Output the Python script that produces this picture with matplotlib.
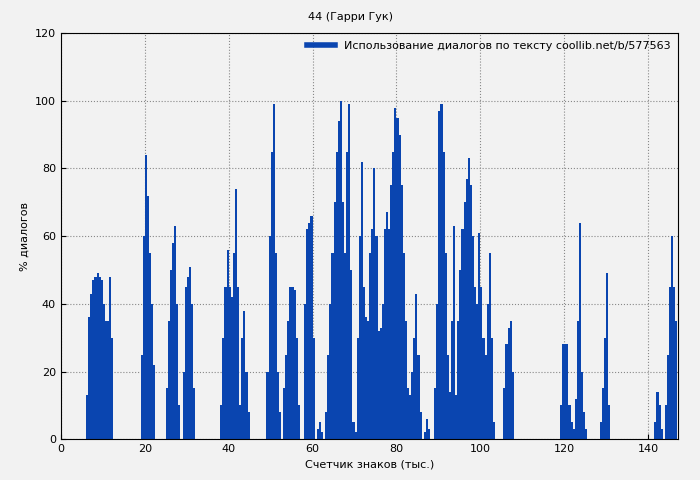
import matplotlib.pyplot as plt
from matplotlib.lines import Line2D

# (start position, values every 0.5k characters)
clusters = [
    (6.0, [13, 36, 43, 47, 48, 49, 48, 47, 40, 35, 35, 48, 30]),
    (19.0, [25, 60, 84, 72, 55, 40, 22]),
    (25.0, [15, 35, 50, 58, 63, 40, 10]),
    (29.0, [20, 45, 48, 51, 40, 15]),
    (38.0, [10, 30, 45, 56, 45, 42, 55, 74, 45, 10, 30, 38, 20, 8]),
    (49.0, [20, 60, 85, 99, 55, 20, 8]),
    (53.0, [15, 25, 35, 45, 45, 44, 30, 10]),
    (58.0, [40, 62, 64, 66, 30]),
    (61.0, [3, 5, 2]),
    (63.0, [8, 25, 40, 55, 70, 85, 94, 100, 70, 55, 85, 99, 50, 5, 2, 30, 60, 82,
            45, 36, 35, 55, 62, 80, 60, 32, 33, 40, 62, 67, 62, 75, 85, 98, 95, 90,
            75, 55, 35, 15, 13, 20, 30, 43, 25, 8]),
    (86.5, [2, 6, 3]),
    (89.0, [15, 40, 97, 99, 85, 55, 25, 14, 35, 63, 13, 35, 50, 62, 70, 77, 83, 75,
            60, 45, 40, 61, 45, 30, 25, 40, 55, 30, 5]),
    (105.5, [15, 28, 33, 35, 20]),
    (119.0, [10, 28, 28, 28, 10]),
    (121.5, [5, 3, 12, 35, 64, 20, 8, 3]),
    (128.5, [5, 15, 30, 49, 10]),
    (141.5, [5, 14, 10, 3]),
    (144.0, [10, 25, 45, 60, 45, 35]),
]

x = []
y = []
for start, vals in clusters:
    for i, v in enumerate(vals):
        x.append(start + 0.5 * i)
        y.append(v)

color = '#0a45b0'
fig = plt.figure(figsize=(7, 4.8), dpi=100, facecolor='#f2f2f2')
ax = fig.add_axes([0.087, 0.085, 0.882, 0.846])
ax.set_facecolor('#f2f2f2')
ax.bar(x, y, width=0.5, color=color, align='edge', linewidth=0)
ax.set_xlim(0, 147.2)
ax.set_ylim(0, 120)
ax.set_xticks(range(0, 141, 20))
ax.set_yticks(range(0, 121, 20))
ax.grid(True, color='#888888', linestyle=':', linewidth=0.8)
ax.set_axisbelow(True)
ax.tick_params(labelsize=8, direction='in')
ax.set_xlabel('Счетчик знаков (тыс.)', fontsize=8)
ax.set_ylabel('% диалогов', fontsize=8)
fig.suptitle('44 (Гарри Гук)', fontsize=8, y=0.975)
ax.legend([Line2D([0], [0], color=color, lw=4)],
          ['Использование диалогов по тексту coollib.net/b/577563'],
          loc='upper right', fontsize=8, frameon=False, handlelength=2.5,
          borderaxespad=0.3)
fig.savefig('out.png', facecolor=fig.get_facecolor())
